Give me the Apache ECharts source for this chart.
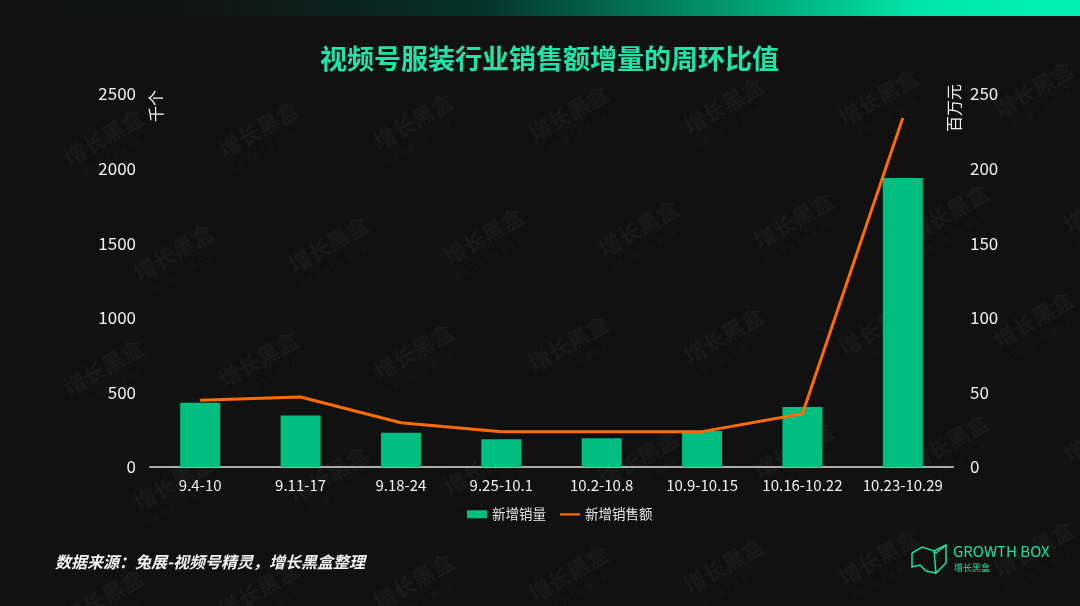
<!DOCTYPE html>
<html>
<head>
<meta charset="utf-8">
<script src="https://cdn.jsdelivr.net/npm/echarts@6/dist/echarts.min.js"></script>
<style>
  html, body { margin: 0; padding: 0; background: #111111; }
  #chart { width: 1080px; height: 606px; }
</style>
</head>
<body>
<div id="chart"></div>
<script>
  // 周区间
  var weeks = ['9.4-10', '9.11-17', '9.18-24', '9.25-10.1', '10.2-10.8', '10.9-10.15', '10.16-10.22', '10.23-10.29'];
  // 新增销量（千个）
  var salesQty = [430, 345, 230, 186, 192, 241, 402, 1937];
  // 新增销售额（百万元）
  var salesAmt = [44.7, 46.9, 29.7, 23.7, 23.7, 23.7, 35.7, 234];

  var font = '"Noto Sans CJK SC", "Noto Sans", sans-serif';

  // 背景水印
  var marks = [];
  for (var r = 0; r < 6; r++) {
    for (var c = 0; c < 8; c++) {
      var x = 60 + c * 155 + (r % 2) * 70;
      var y = 150 + r * 115 - c * 8;
      marks.push({
        type: 'group', x: x, y: y, rotation: Math.PI / 6, silent: true, z: 0,
        children: [
          { type: 'text', style: { text: '增长黑盒', fill: 'rgba(255,255,255,0.04)', font: 'bold 22px ' + font } },
          { type: 'text', y: 28, style: { text: 'G R O W T H  B O X', fill: 'rgba(255,255,255,0.035)', font: '9px ' + font } }
        ]
      });
    }
  }

  var chart = echarts.init(document.getElementById('chart'));
  chart.setOption({
    backgroundColor: '#111111',
    animation: false,
    textStyle: { fontFamily: font },
    title: {
      text: '视频号服装行业销售额增量的周环比值',
      left: 315,
      top: 40,
      textStyle: { color: '#22e3a6', fontSize: 27, fontWeight: 'bold', fontFamily: font }
    },
    legend: {
      bottom: 80,
      left: 462,
      itemWidth: 20,
      itemHeight: 8,
      itemGap: 14,
      textStyle: { color: '#e6e6e6', fontSize: 13.5 },
      data: [
        { name: '新增销量', icon: 'rect' },
        { name: '新增销售额', icon: 'path://M0,0 L1,0 L0,0 Z M0,3 L22,3 L22,5.5 L0,5.5 Z M0,8 L1,8 L0,8 Z' }
      ]
    },
    grid: { left: 150, right: 127, top: 94, bottom: 139, containLabel: false },
    xAxis: {
      type: 'category',
      data: weeks,
      axisLine: { lineStyle: { color: '#aaaaaa', width: 2 } },
      axisTick: { show: false },
      axisLabel: { color: '#f0f0f0', fontSize: 15, margin: 11, interval: 0, hideOverlap: false }
    },
    yAxis: [{
      type: 'value', min: 0, max: 2500, interval: 500,
      splitLine: { show: false },
      axisLine: { show: false },
      axisLabel: { color: '#f0f0f0', fontSize: 17, margin: 14, formatter: function (v) { return String(v); } }
    }, {
      type: 'value', min: 0, max: 250, interval: 50,
      splitLine: { show: false },
      axisLine: { show: false },
      axisLabel: { color: '#f0f0f0', fontSize: 17, margin: 17 }
    }],
    graphic: marks.concat([
      {
        type: 'rect', left: 0, top: 0, shape: { width: 1080, height: 16 }, silent: true,
        style: {
          fill: new echarts.graphic.LinearGradient(0, 0, 1, 0, [
            { offset: 0, color: 'rgba(17,17,17,0)' },
            { offset: 0.28, color: 'rgba(10,40,32,0.6)' },
            { offset: 0.45, color: '#05352a' },
            { offset: 0.85, color: '#00e6a8' },
            { offset: 1, color: '#00f2b2' }
          ])
        }
      },
      {
        type: 'text', x: 148, y: 122, rotation: Math.PI / 2,
        style: { text: '千个', fill: '#f0f0f0', font: '16px ' + font }
      },
      {
        type: 'text', x: 946, y: 132, rotation: Math.PI / 2,
        style: { text: '百万元', fill: '#f0f0f0', font: '16px ' + font }
      },
      {
        type: 'text', left: 55, top: 554,
        style: { text: '数据来源：兔展-视频号精灵，增长黑盒整理', fill: '#f2f2f2', font: 'italic bold 16px ' + font }
      },
      {
        type: 'group', x: 912, y: 545, silent: true,
        children: [
          { type: 'polyline', shape: { points: [[0, 8], [10, 2], [22, 6], [34, 0], [34, 18], [24, 28], [22, 6]] }, style: { stroke: '#1fe0a0', lineWidth: 1.5, fill: null } },
          { type: 'polyline', shape: { points: [[0, 8], [0, 22], [8, 20], [14, 26], [24, 28]] }, style: { stroke: '#1fe0a0', lineWidth: 1.5, fill: null } },
          { type: 'polyline', shape: { points: [[34, 0], [24, 8], [22, 6]] }, style: { stroke: '#1fe0a0', lineWidth: 1.5, fill: null } }
        ]
      },
      {
        type: 'text', left: 953, top: 544,
        style: { text: 'GROWTH BOX', fill: '#1fe0a0', font: '15px ' + font }
      },
      {
        type: 'text', left: 954, top: 563,
        style: { text: '增长黑盒', fill: '#1fe0a0', font: '9px ' + font }
      }
    ]),
    series: [{
      name: '新增销量',
      type: 'bar',
      barWidth: 40,
      itemStyle: { color: '#00bd80' },
      data: salesQty
    }, {
      name: '新增销售额',
      type: 'line',
      yAxisIndex: 1,
      showSymbol: false,
      symbol: 'none',
      lineStyle: { color: '#ff6d00', width: 3 },
      itemStyle: { color: '#ff6d00' },
      data: salesAmt
    }]
  });
</script>
</body>
</html>
